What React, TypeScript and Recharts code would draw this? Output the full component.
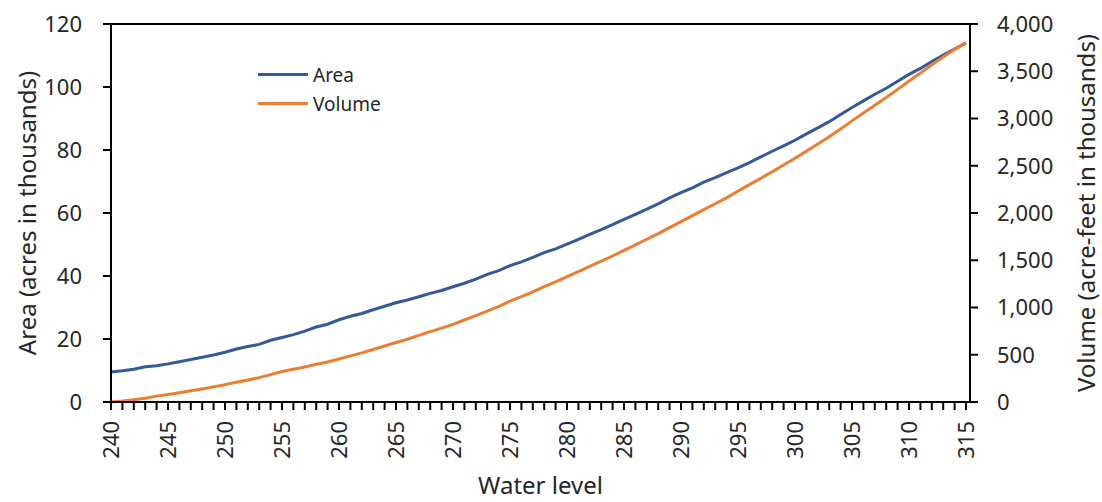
import { LineChart, Line, XAxis, YAxis, Legend, ReferenceLine } from "recharts";

const waterLevels = [
  240, 241, 242, 243, 244, 245, 246, 247, 248, 249, 250, 251, 252, 253, 254, 255, 256, 257, 258, 259,
  260, 261, 262, 263, 264, 265, 266, 267, 268, 269, 270, 271, 272, 273, 274, 275, 276, 277, 278, 279,
  280, 281, 282, 283, 284, 285, 286, 287, 288, 289, 290, 291, 292, 293, 294, 295, 296, 297, 298, 299,
  300, 301, 302, 303, 304, 305, 306, 307, 308, 309, 310, 311, 312, 313, 314, 315,
];

// acres, thousands
const areaValues = [
  9.5, 9.9, 10.4, 11.2, 11.5, 12.1, 12.8, 13.5, 14.2, 14.9, 15.8, 16.8, 17.6, 18.3, 19.6, 20.5, 21.4, 22.5, 23.8, 24.7,
  26.1, 27.2, 28.1, 29.3, 30.4, 31.5, 32.4, 33.4, 34.5, 35.4, 36.6, 37.7, 39.0, 40.5, 41.7, 43.3, 44.5, 45.9, 47.4, 48.6,
  50.1, 51.6, 53.2, 54.7, 56.3, 58.0, 59.6, 61.2, 62.9, 64.8, 66.5, 68.0, 69.8, 71.2, 72.8, 74.3, 76.0, 77.8, 79.6, 81.3,
  83.1, 85.1, 87.0, 89.0, 91.3, 93.5, 95.6, 97.7, 99.6, 101.8, 104.0, 105.9, 108.1, 110.1, 112.0, 114.0,
];

// acre-feet, thousands
const volumeValues = [
  0, 10, 25, 40, 62, 80, 98, 118, 138, 160, 184, 208, 232, 258, 290, 322, 346, 370, 400, 424,
  455, 488, 520, 555, 592, 630, 664, 705, 745, 782, 822, 868, 915, 962, 1010, 1068, 1115, 1165, 1220, 1272,
  1326, 1380, 1436, 1490, 1545, 1604, 1662, 1722, 1782, 1845, 1908, 1972, 2035, 2098, 2160, 2232, 2300, 2368, 2436, 2508,
  2580, 2655, 2730, 2808, 2890, 2975, 3058, 3140, 3222, 3308, 3396, 3480, 3568, 3652, 3730, 3800,
];

const areaTicks = [0, 20, 40, 60, 80, 100, 120];
const volumeTicks = [0, 500, 1000, 1500, 2000, 2500, 3000, 3500, 4000];

const seriesNames = ["Area", "Volume"];
const colors = ["#345a9c", "#ed7d31"];

const data = waterLevels.map((level, i) => ({
  level,
  area: areaValues[i],
  volume: volumeValues[i],
}));

const FONT = "'Noto Sans', sans-serif";
const TEXT = "#262626";

function LevelTick(props: any) {
  const { x, y, payload } = props;
  if (payload.value % 5 !== 0) return null;
  return (
    <text
      x={x}
      y={y}
      dy="0.36em"
      transform={`rotate(-90, ${x}, ${y})`}
      textAnchor="end"
      fill={TEXT}
      fontSize={22}
      fontFamily={FONT}
    >
      {payload.value}
    </text>
  );
}

function ChartLegend() {
  return (
    <div style={{ fontFamily: FONT, fontSize: 19, color: TEXT }}>
      {seriesNames.map((name, i) => (
        <div key={name} style={{ display: "flex", alignItems: "center", height: 29 }}>
          <div style={{ width: 50, height: 3, background: colors[i] }} />
          <span style={{ marginLeft: 5 }}>{name}</span>
        </div>
      ))}
    </div>
  );
}

export default function App() {
  const axisStroke = { stroke: "#000", strokeWidth: 2 };
  return (
    <div style={{ position: "absolute", left: 0, top: 0, background: "#fff" }}>
      <LineChart width={1102} height={502} data={data} margin={{ top: 24, right: 0, left: 0, bottom: 0 }}>
        <XAxis
          dataKey="level"
          type="number"
          domain={[240, 315.35]}
          ticks={waterLevels}
          interval={0}
          height={100}
          tickSize={8}
          tickMargin={11}
          tick={<LevelTick />}
          axisLine={axisStroke}
          tickLine={axisStroke}
          label={{
            value: "Water level",
            position: "insideBottom",
            offset: 8,
            fill: TEXT,
            fontSize: 24,
            fontFamily: FONT,
          }}
        />
        <YAxis
          yAxisId="left"
          domain={[0, 120]}
          ticks={areaTicks}
          width={111}
          tickSize={8}
          tickMargin={21}
          axisLine={axisStroke}
          tickLine={axisStroke}
          tick={{ fill: TEXT, fontSize: 22, fontFamily: FONT }}
          label={{
            value: "Area (acres in thousands)",
            angle: -90,
            position: "insideLeft",
            offset: 27,
            fill: TEXT,
            fontSize: 24,
            fontFamily: FONT,
            style: { textAnchor: "middle" },
          }}
        />
        <YAxis
          yAxisId="right"
          orientation="right"
          domain={[0, 4000]}
          ticks={volumeTicks}
          width={132}
          tickSize={8}
          tickMargin={19}
          axisLine={axisStroke}
          tickLine={axisStroke}
          tickFormatter={(v: number) => v.toLocaleString("en-US")}
          tick={{ fill: TEXT, fontSize: 22, fontFamily: FONT }}
          label={{
            value: "Volume (acre-feet in thousands)",
            angle: -90,
            position: "insideRight",
            offset: 16,
            fill: TEXT,
            fontSize: 24,
            fontFamily: FONT,
            style: { textAnchor: "middle" },
          }}
        />
        <ReferenceLine yAxisId="left" y={120} stroke="#000" strokeWidth={2} />
        <Legend
          layout="vertical"
          align="center"
          verticalAlign="middle"
          content={<ChartLegend />}
          wrapperStyle={{ left: 258, top: 60, width: 160 }}
        />
        <Line
          yAxisId="left"
          type="linear"
          dataKey="area"
          name={seriesNames[0]}
          stroke={colors[0]}
          strokeWidth={3}
          dot={false}
          isAnimationActive={false}
        />
        <Line
          yAxisId="right"
          type="linear"
          dataKey="volume"
          name={seriesNames[1]}
          stroke={colors[1]}
          strokeWidth={3}
          dot={false}
          isAnimationActive={false}
        />
      </LineChart>
    </div>
  );
}
